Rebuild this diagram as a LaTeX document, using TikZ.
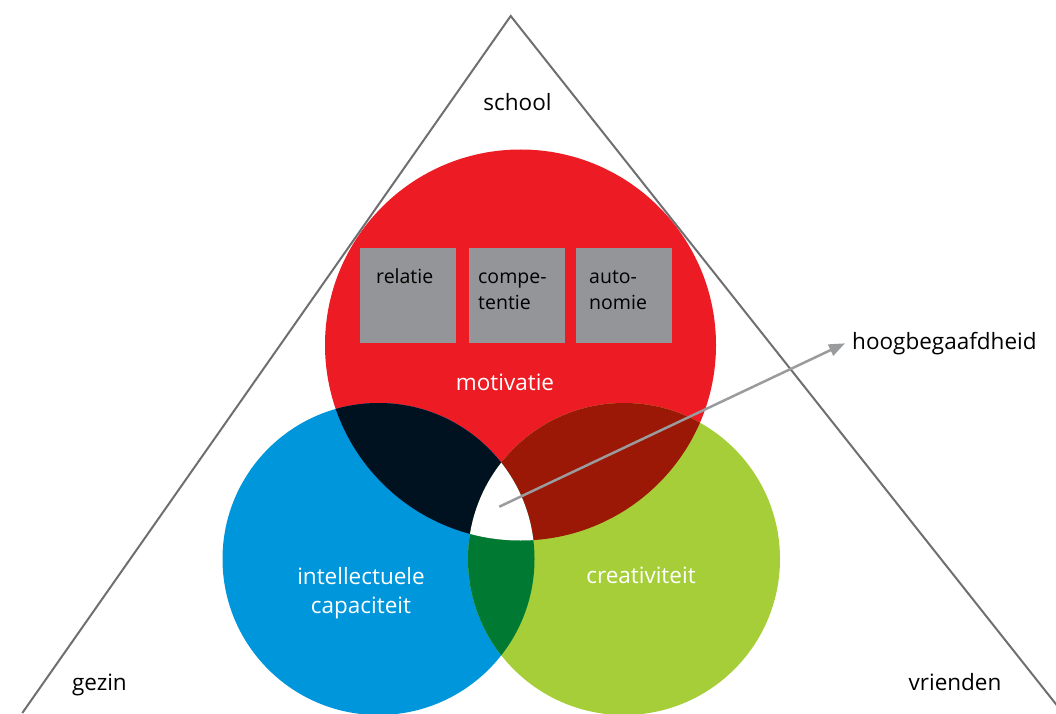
\documentclass[tikz,border=0pt]{standalone}
\usepackage{fontspec}
\setmainfont{Open Sans}
\usetikzlibrary{arrows.meta}
\definecolor{cred}{HTML}{ED1C24}
\definecolor{cblue}{HTML}{0096DB}
\definecolor{cgreen}{HTML}{A6CE39}
\definecolor{crb}{HTML}{00111F}
\definecolor{crg}{HTML}{9B1706}
\definecolor{cbg}{HTML}{007A33}
\definecolor{cbox}{HTML}{939598}
\definecolor{cline}{HTML}{6F6F71}
\definecolor{carrow}{HTML}{9A9B9D}
\tikzset{
  biglabel/.style={font=\fontsize{22.5}{29}\selectfont, inner sep=0pt, align=center},
  boxlabel/.style={font=\fontsize{19.5}{26}\selectfont, inner sep=0pt, align=left, anchor=base west},
  greybox/.style={fill=cbox, draw=none, minimum width=96pt, minimum height=95pt, inner sep=0pt, anchor=south west},
  triline/.style={draw=cline, line width=2pt},
  pointer/.style={draw=carrow, line width=2.5pt, -{Triangle[length=16pt,width=12pt]}}
}
\begin{document}
\begin{tikzpicture}[x=1pt,y=1pt]
\useasboundingbox (0,0) rectangle (1056,713);
\begin{scope}
\clip (0,0) rectangle (1056,713);
% triangle
\coordinate (apex) at (510.7,697);
\coordinate (lb) at (22.3,0);
\coordinate (rb) at (1062,1.2);
\draw[triline] (lb) -- (apex) -- (rb);
% circles
\def\redc{(520.5,368) circle[radius=195.5]}
\def\bluec{(378.5,154) circle[radius=156]}
\def\greenc{(624,154) circle[radius=156]}
\fill[cred] \redc;
\fill[cblue] \bluec;
\fill[cgreen] \greenc;
\begin{scope}\clip \redc; \fill[crb] \bluec; \fill[crg] \greenc; \end{scope}
\begin{scope}\clip \bluec; \fill[cbg] \greenc; \end{scope}
\begin{scope}\clip \redc; \clip \bluec; \fill[white] \greenc; \end{scope}
\end{scope}
% boxes
\node[greybox] (b1) at (360,369.7) {};
\node[greybox] (b2) at (468.3,369.7) {};
\node[greybox] (b3) at (576,369.7) {};
\node[boxlabel] (t1) at (376,429) {relatie};
\node[boxlabel] (t2) at (478,403) {compe-\\tentie};
\node[boxlabel] (t3) at (589,403) {auto-\\nomie};
% labels
\node[biglabel, anchor=base] (school) at (517.5,602.3) {school};
\node[biglabel, anchor=base] (gezin) at (99.4,22.3) {gezin};
\node[biglabel, anchor=base] (vrienden) at (955,23) {vrienden};
\node[biglabel, text=white, anchor=base] (mot) at (505,323) {motivatie};
\node[biglabel, text=white, anchor=base] (intel) at (361,100) {intellectuele\\capaciteit};
\node[biglabel, text=white, anchor=base] (crea) at (641,130) {creativiteit};
\node[biglabel, anchor=west, inner xsep=7pt] (hb) at (845,369.7) {hoogbegaafdheid};
\coordinate (core) at (499.3,206.3);
\draw[pointer] (core) -- (hb.west);
\end{tikzpicture}
\end{document}
